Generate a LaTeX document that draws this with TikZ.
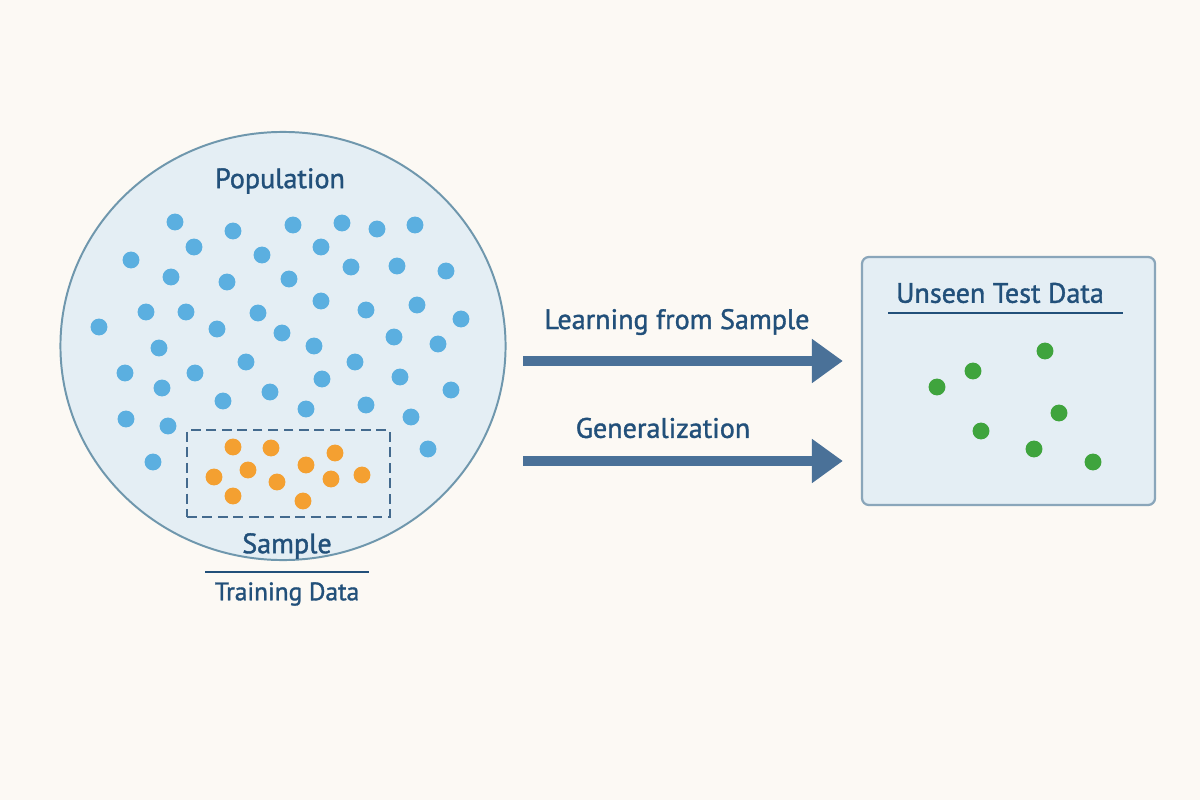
\documentclass[tikz,border=0pt]{standalone}
\usepackage{fontspec}
\setmainfont{PT Sans}[FakeBold=1.3]
\usepackage{tikz}
\usetikzlibrary{arrows.meta,shapes.geometric,positioning}
\definecolor{paper}{HTML}{FCF9F4}
\definecolor{popfill}{HTML}{E4EEF4}
\definecolor{popline}{HTML}{6F97AD}
\definecolor{ink}{HTML}{22507A}
\definecolor{arrowblue}{HTML}{4A7198}
\definecolor{dotblue}{HTML}{5BAFE0}
\definecolor{dotorange}{HTML}{F4A031}
\definecolor{dotgreen}{HTML}{3FA43D}
\definecolor{boxline}{HTML}{8AA6BA}
\tikzstyle{label} = [text=ink, font=\fontsize{20}{24}\selectfont, inner sep=0pt]
\tikzstyle{smalllabel} = [text=ink, font=\fontsize{18}{22}\selectfont, inner sep=0pt]
\tikzstyle{bigarrow} = [draw=arrowblue, line width=7.8pt,
                        -{Triangle[length=22pt,width=30pt]}, shorten >=12.8pt]

\begin{document}
\begin{tikzpicture}[x=0.025cm, y=-0.025cm,
population/.style={ellipse, draw=popline, fill=popfill, line width=1.4pt,
  minimum width=11.125cm, minimum height=10.7cm, inner sep=0pt},
samplebox/.style={rectangle, draw=ink!85, line width=1.6pt, dash pattern=on 7pt off 4pt,
  minimum width=5.075cm, minimum height=2.175cm, inner sep=0pt},
testbox/.style={rectangle, rounded corners=5pt, draw=boxline, fill=popfill, line width=1.6pt,
  minimum width=7.325cm, minimum height=6.2cm, inner sep=0pt},
bdot/.style={circle, fill=dotblue, minimum size=12pt, inner sep=0pt},
odot/.style={circle, fill=dotorange, minimum size=12pt, inner sep=0pt},
gdot/.style={circle, fill=dotgreen, minimum size=12pt, inner sep=0pt}]
\fill[paper] (0,0) rectangle (1200,800);
\useasboundingbox (0,0) rectangle (1200,800);

%Population
\node[population] at (283,346) (pop) {};
\node[label] at (280,181) (poptitle) {Population};
\foreach \x/\y [count=\i] in {175/222, 233/231, 293/225, 342/223, 377/229, 415/225,
  194/247, 262/255, 321/247, 131/260, 171/277, 227/282, 289/279, 351/267, 397/266, 446/271,
  146/312, 186/312, 258/313, 321/301, 366/310, 417/305, 461/319, 99/327, 217/329, 282/333,
  394/337, 159/348, 314/346, 438/344, 246/362, 355/362, 125/373, 195/373, 322/379, 400/377,
  162/388, 270/392, 451/390, 223/401, 306/409, 366/405, 126/419, 168/426, 411/417,
  428/449, 153/462}
  \node[bdot] at (\x,\y) (b\i) {};

%Sample
\node[samplebox] at (288.5,473.5) (sample) {};
\foreach \x/\y [count=\i] in {233/447, 271/448, 335/453, 248/470, 306/465, 214/477,
  277/482, 331/479, 362/475, 233/496, 303/501}
  \node[odot] at (\x,\y) (o\i) {};
\node[label] at (287,546) (samplename) {Sample};
\draw[ink, line width=1pt] (205,572) -- (369,572);
\node[smalllabel] at (287,594) (train) {Training Data};

%Test data
\node[testbox] at (1008.5,381) (test) {};
\node[label] at (1000,293) (testtitle) {Unseen Test Data};
\draw[ink, line width=1pt] (888,313) -- (1123,313);
\foreach \x/\y [count=\i] in {1045/351, 973/371, 937/387, 1059/413, 981/431, 1034/449, 1093/462}
  \node[gdot] at (\x,\y) (g\i) {};

% Arrows
\coordinate (learn) at (523,361);
\coordinate (gen) at (523,461);
\draw[bigarrow] (learn) -- (learn -| test.west);
\draw[bigarrow] (gen) -- (gen -| test.west);
\node[label] at (677,322) (learntext) {Learning from Sample};
\node[label] at (663,428) (gentext) {Generalization};
\end{tikzpicture}
\end{document}
